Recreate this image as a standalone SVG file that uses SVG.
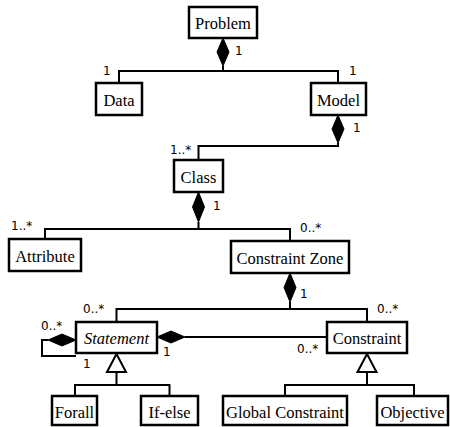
<svg xmlns="http://www.w3.org/2000/svg" width="450" height="427" viewBox="0 0 450 427">
<style>
.box{fill:#fff;stroke:#000;stroke-width:2.5}
.t{font-size:16.5px;text-anchor:middle;fill:#000;stroke:none;font-weight:normal}
.i{font-style:italic}
.l{font-size:12px;fill:#000;stroke:none;font-weight:normal}
.c{fill:none;stroke:#000;stroke-width:2}
.d{fill:#000;stroke:#000;stroke-width:1}
.g{fill:#fff;stroke:#000;stroke-width:2}
</style>
<rect width="450" height="427" fill="#fff"/>
<g id="connectors">
  <path class="c" d="M223,66 V71 M119,83 V71 H338 V83"/>
  <path class="d" d="M223,38 L229,52 L223,66 L217,52 Z"/>
  <path class="c" d="M338,143 V146 H198.5 V160"/>
  <path class="d" d="M338,115 L344,129 L338,143 L332,129 Z"/>
  <path class="c" d="M198.5,222 V229 M45,239 V229 H290 V241"/>
  <path class="d" d="M198.5,192 L204.5,207 L198.5,222 L192.5,207 Z"/>
  <path class="c" d="M290,302 V309 M116.5,322 V309 H367 V322"/>
  <path class="d" d="M290,273 L296,287.5 L290,302 L284,287.5 Z"/>
  <path class="c" d="M185,337 H327"/>
  <path class="d" d="M157,337 L171,331 L185,337 L171,343 Z"/>
  <path class="c" d="M48,340 H42 V356 H76"/>
  <path class="d" d="M76,340 L62,334 L48,340 L62,346 Z"/>
  <path class="c" d="M116.5,372 V385 M75,396 V385 H169.5 V396"/>
  <path class="g" d="M116.5,354 L126,372 L107,372 Z"/>
  <path class="c" d="M367,372 V385 M285,396 V385 H414 V396"/>
  <path class="g" d="M367,354 L376.5,372 L357.5,372 Z"/>
  <g font-family="'DejaVu Sans', sans-serif">
  <text class="l" x="235" y="55">1</text>
  <text class="l" x="103" y="75">1</text>
  <text class="l" x="349" y="75">1</text>
  <text class="l" x="353" y="132">1</text>
  <text class="l" x="170" y="154">1..*</text>
  <text class="l" x="213" y="210">1</text>
  <text class="l" x="11" y="230">1..*</text>
  <text class="l" x="300" y="232">0..*</text>
  <text class="l" x="300" y="298">1</text>
  <text class="l" x="83" y="313">0..*</text>
  <text class="l" x="377" y="313">0..*</text>
  <text class="l" x="41" y="330">0..*</text>
  <text class="l" x="83" y="368">1</text>
  <text class="l" x="163" y="356">1</text>
  <text class="l" x="297" y="353">0..*</text>
  </g>
</g>
<g font-family="'Liberation Serif', 'Times New Roman', serif">
<g id="problem"><rect class="box" x="189" y="7" width="68" height="31"/><text class="t" x="223" y="29">Problem</text></g>
<g id="data"><rect class="box" x="96" y="83" width="46" height="32"/><text class="t" x="119" y="105.5">Data</text></g>
<g id="model"><rect class="box" x="311" y="83" width="55" height="32"/><text class="t" x="338.5" y="105.5">Model</text></g>
<g id="class"><rect class="box" x="174" y="160" width="49" height="32"/><text class="t" x="198.5" y="182.5">Class</text></g>
<g id="attribute"><rect class="box" x="9" y="239" width="72" height="32"/><text class="t" x="45" y="261.5">Attribute</text></g>
<g id="constraint-zone"><rect class="box" x="231" y="241" width="118" height="32"/><text class="t" x="290" y="263.5">Constraint Zone</text></g>
<g id="statement"><rect class="box" x="76" y="322" width="81" height="31"/><text class="t i" x="116.5" y="344">Statement</text></g>
<g id="constraint"><rect class="box" x="327" y="322" width="80" height="31"/><text class="t" x="367" y="344">Constraint</text></g>
<g id="forall"><rect class="box" x="52" y="396" width="45" height="29"/><text class="t" x="74.5" y="417.5">Forall</text></g>
<g id="if-else"><rect class="box" x="141" y="396" width="57" height="29"/><text class="t" x="169.5" y="417.5">If-else</text></g>
<g id="global-constraint"><rect class="box" x="223" y="396" width="124" height="29"/><text class="t" x="285" y="417.5">Global Constraint</text></g>
<g id="objective"><rect class="box" x="377" y="396" width="71" height="29"/><text class="t" x="412.5" y="417.5">Objective</text></g>
</g>
</svg>
